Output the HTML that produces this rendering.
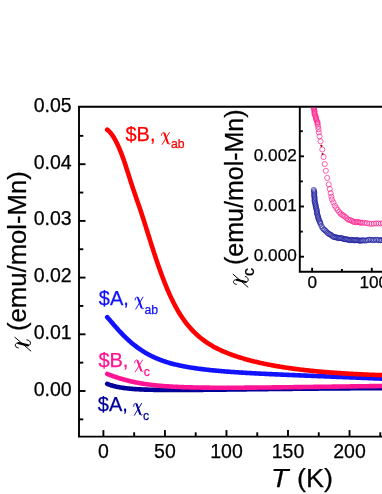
<!DOCTYPE html><html><head><meta charset="utf-8"><title>chart</title><style>
html,body{margin:0;padding:0;background:#fff;}
html{width:382px;height:494px;overflow:hidden;}
body{width:382px;height:494px;position:relative;overflow:hidden;font-family:"Liberation Sans",sans-serif;color:#000;}
#b{position:absolute;left:0;top:0;width:382px;height:494px;overflow:hidden;will-change:transform;filter:blur(0.35px);}
.t{position:absolute;white-space:nowrap;line-height:1;-webkit-text-stroke:0.25px currentColor;}
.yl{font-size:19.5px;text-align:right;width:60px;}
.xl{font-size:19.5px;text-align:center;width:60px;}
.il{font-size:17.2px;}
.lab{font-size:20px;}
.lab .chi{font-family:"Liberation Serif",serif;font-size:21px;}
.lab sub{font-size:12.5px;vertical-align:baseline;position:relative;top:4px;}
.rot{transform-origin:0 0;transform:rotate(-90deg);}
.chi-i{font-family:"Liberation Serif",serif;font-style:italic;}
</style></head><body><div id="b">
<svg width="382" height="494" viewBox="0 0 382 494" style="position:absolute;left:0;top:0"><path d="M107.20,383.80 L108.13,384.19 L109.06,384.55 L109.99,384.89 L110.92,385.20 L111.85,385.49 L112.77,385.76 L113.70,386.02 L114.63,386.26 L115.56,386.49 L116.49,386.70 L117.42,386.89 L118.35,387.08 L119.28,387.26 L120.21,387.42 L121.14,387.58 L122.07,387.72 L122.99,387.86 L123.92,387.99 L124.85,388.11 L125.78,388.23 L126.71,388.34 L127.64,388.44 L128.57,388.54 L129.50,388.63 L130.43,388.72 L131.36,388.80 L132.29,388.88 L133.21,388.95 L134.14,389.02 L135.07,389.09 L136.00,389.15 L136.93,389.21 L137.86,389.27 L138.79,389.32 L139.72,389.37 L140.65,389.41 L141.58,389.46 L142.51,389.50 L143.43,389.54 L144.36,389.58 L145.29,389.61 L146.22,389.64 L147.15,389.67 L148.08,389.70 L149.01,389.73 L149.94,389.76 L150.87,389.78 L151.80,389.80 L152.73,389.82 L153.65,389.84 L154.58,389.86 L155.51,389.88 L156.44,389.89 L157.37,389.91 L158.30,389.92 L159.23,389.93 L160.16,389.94 L161.09,389.95 L162.02,389.96 L162.95,389.97 L163.87,389.98 L164.80,389.98 L165.73,389.99 L166.66,389.99 L167.59,390.00 L168.52,390.00 L169.45,390.00 L170.38,390.01 L171.31,390.01 L172.24,390.01 L173.17,390.01 L174.09,390.01 L175.02,390.01 L175.95,390.01 L176.88,390.01 L177.81,390.01 L178.74,390.00 L179.67,390.00 L180.60,390.00 L181.53,389.99 L182.46,389.99 L183.39,389.98 L184.32,389.98 L185.24,389.98 L186.17,389.97 L187.10,389.96 L188.03,389.96 L188.96,389.95 L189.89,389.95 L190.82,389.94 L191.75,389.93 L192.68,389.92 L193.61,389.92 L194.54,389.91 L195.46,389.90 L196.39,389.89 L197.32,389.89 L198.25,389.88 L199.18,389.87 L200.11,389.86 L201.04,389.85 L201.97,389.84 L202.90,389.83 L203.83,389.82 L204.76,389.82 L205.68,389.81 L206.61,389.80 L207.54,389.79 L208.47,389.78 L209.40,389.77 L210.33,389.76 L211.26,389.75 L212.19,389.74 L213.12,389.73 L214.05,389.72 L214.98,389.71 L215.90,389.69 L216.83,389.68 L217.76,389.67 L218.69,389.66 L219.62,389.65 L220.55,389.64 L221.48,389.63 L222.41,389.62 L223.34,389.61 L224.27,389.60 L225.20,389.59 L226.12,389.58 L227.05,389.57 L227.98,389.55 L228.91,389.54 L229.84,389.53 L230.77,389.52 L231.70,389.51 L232.63,389.50 L233.56,389.49 L234.49,389.48 L235.42,389.47 L236.34,389.45 L237.27,389.44 L238.20,389.43 L239.13,389.42 L240.06,389.41 L240.99,389.40 L241.92,389.39 L242.85,389.38 L243.78,389.37 L244.71,389.35 L245.64,389.34 L246.56,389.33 L247.49,389.32 L248.42,389.31 L249.35,389.30 L250.28,389.29 L251.21,389.28 L252.14,389.27 L253.07,389.26 L254.00,389.25 L254.93,389.23 L255.86,389.22 L256.78,389.21 L257.71,389.20 L258.64,389.19 L259.57,389.18 L260.50,389.17 L261.43,389.16 L262.36,389.15 L263.29,389.14 L264.22,389.13 L265.15,389.12 L266.08,389.11 L267.00,389.10 L267.93,389.08 L268.86,389.07 L269.79,389.06 L270.72,389.05 L271.65,389.04 L272.58,389.03 L273.51,389.02 L274.44,389.01 L275.37,389.00 L276.30,388.99 L277.22,388.98 L278.15,388.97 L279.08,388.96 L280.01,388.95 L280.94,388.94 L281.87,388.93 L282.80,388.92 L283.73,388.91 L284.66,388.90 L285.59,388.89 L286.52,388.88 L287.44,388.87 L288.37,388.86 L289.30,388.86 L290.23,388.85 L291.16,388.84 L292.09,388.83 L293.02,388.82 L293.95,388.81 L294.88,388.80 L295.81,388.79 L296.74,388.78 L297.66,388.77 L298.59,388.76 L299.52,388.75 L300.45,388.74 L301.38,388.74 L302.31,388.73 L303.24,388.72 L304.17,388.71 L305.10,388.70 L306.03,388.69 L306.96,388.68 L307.88,388.67 L308.81,388.66 L309.74,388.66 L310.67,388.65 L311.60,388.64 L312.53,388.63 L313.46,388.62 L314.39,388.61 L315.32,388.61 L316.25,388.60 L317.18,388.59 L318.11,388.58 L319.03,388.57 L319.96,388.57 L320.89,388.56 L321.82,388.55 L322.75,388.54 L323.68,388.53 L324.61,388.53 L325.54,388.52 L326.47,388.51 L327.40,388.50 L328.33,388.49 L329.25,388.49 L330.18,388.48 L331.11,388.47 L332.04,388.46 L332.97,388.46 L333.90,388.45 L334.83,388.44 L335.76,388.43 L336.69,388.43 L337.62,388.42 L338.55,388.41 L339.47,388.41 L340.40,388.40 L341.33,388.39 L342.26,388.39 L343.19,388.38 L344.12,388.37 L345.05,388.36 L345.98,388.36 L346.91,388.35 L347.84,388.34 L348.77,388.34 L349.69,388.33 L350.62,388.32 L351.55,388.32 L352.48,388.31 L353.41,388.30 L354.34,388.30 L355.27,388.29 L356.20,388.29 L357.13,388.28 L358.06,388.27 L358.99,388.27 L359.91,388.26 L360.84,388.25 L361.77,388.25 L362.70,388.24 L363.63,388.24 L364.56,388.23 L365.49,388.22 L366.42,388.22 L367.35,388.21 L368.28,388.21 L369.21,388.20 L370.13,388.20 L371.06,388.19 L371.99,388.18 L372.92,388.18 L373.85,388.17 L374.78,388.17 L375.71,388.16 L376.64,388.16 L377.57,388.15 L378.50,388.15 L379.43,388.14 L380.35,388.14 L381.28,388.13 L382.21,388.13 L383.14,388.12 L384.07,388.11 L385.00,388.11" fill="none" stroke="#00009a" stroke-width="4.6" stroke-linecap="round" stroke-linejoin="round"/><path d="M107.20,373.95 L108.13,374.30 L109.06,374.65 L109.99,374.99 L110.92,375.33 L111.85,375.67 L112.77,376.00 L113.70,376.33 L114.63,376.65 L115.56,376.97 L116.49,377.28 L117.42,377.59 L118.35,377.89 L119.28,378.18 L120.21,378.47 L121.14,378.75 L122.07,379.02 L122.99,379.29 L123.92,379.55 L124.85,379.81 L125.78,380.06 L126.71,380.30 L127.64,380.54 L128.57,380.77 L129.50,381.00 L130.43,381.22 L131.36,381.43 L132.29,381.64 L133.21,381.85 L134.14,382.05 L135.07,382.24 L136.00,382.43 L136.93,382.61 L137.86,382.79 L138.79,382.96 L139.72,383.13 L140.65,383.29 L141.58,383.45 L142.51,383.61 L143.43,383.76 L144.36,383.90 L145.29,384.05 L146.22,384.18 L147.15,384.32 L148.08,384.45 L149.01,384.57 L149.94,384.69 L150.87,384.81 L151.80,384.92 L152.73,385.03 L153.65,385.14 L154.58,385.24 L155.51,385.34 L156.44,385.44 L157.37,385.53 L158.30,385.62 L159.23,385.71 L160.16,385.79 L161.09,385.87 L162.02,385.95 L162.95,386.03 L163.87,386.10 L164.80,386.17 L165.73,386.24 L166.66,386.30 L167.59,386.36 L168.52,386.42 L169.45,386.48 L170.38,386.54 L171.31,386.59 L172.24,386.65 L173.17,386.70 L174.09,386.75 L175.02,386.79 L175.95,386.84 L176.88,386.88 L177.81,386.92 L178.74,386.96 L179.67,387.00 L180.60,387.04 L181.53,387.08 L182.46,387.11 L183.39,387.14 L184.32,387.18 L185.24,387.21 L186.17,387.24 L187.10,387.26 L188.03,387.29 L188.96,387.32 L189.89,387.34 L190.82,387.37 L191.75,387.39 L192.68,387.41 L193.61,387.43 L194.54,387.45 L195.46,387.47 L196.39,387.49 L197.32,387.51 L198.25,387.52 L199.18,387.54 L200.11,387.56 L201.04,387.57 L201.97,387.58 L202.90,387.60 L203.83,387.61 L204.76,387.62 L205.68,387.63 L206.61,387.64 L207.54,387.65 L208.47,387.66 L209.40,387.67 L210.33,387.68 L211.26,387.68 L212.19,387.69 L213.12,387.70 L214.05,387.70 L214.98,387.71 L215.90,387.71 L216.83,387.72 L217.76,387.72 L218.69,387.72 L219.62,387.73 L220.55,387.73 L221.48,387.73 L222.41,387.73 L223.34,387.73 L224.27,387.73 L225.20,387.73 L226.12,387.73 L227.05,387.73 L227.98,387.73 L228.91,387.73 L229.84,387.73 L230.77,387.73 L231.70,387.73 L232.63,387.72 L233.56,387.72 L234.49,387.72 L235.42,387.72 L236.34,387.71 L237.27,387.71 L238.20,387.70 L239.13,387.70 L240.06,387.70 L240.99,387.69 L241.92,387.69 L242.85,387.68 L243.78,387.68 L244.71,387.67 L245.64,387.66 L246.56,387.66 L247.49,387.65 L248.42,387.65 L249.35,387.64 L250.28,387.63 L251.21,387.62 L252.14,387.62 L253.07,387.61 L254.00,387.60 L254.93,387.59 L255.86,387.59 L256.78,387.58 L257.71,387.57 L258.64,387.56 L259.57,387.55 L260.50,387.55 L261.43,387.54 L262.36,387.53 L263.29,387.52 L264.22,387.51 L265.15,387.50 L266.08,387.49 L267.00,387.48 L267.93,387.47 L268.86,387.46 L269.79,387.45 L270.72,387.44 L271.65,387.43 L272.58,387.42 L273.51,387.41 L274.44,387.40 L275.37,387.39 L276.30,387.38 L277.22,387.37 L278.15,387.36 L279.08,387.35 L280.01,387.34 L280.94,387.33 L281.87,387.32 L282.80,387.31 L283.73,387.30 L284.66,387.28 L285.59,387.27 L286.52,387.26 L287.44,387.25 L288.37,387.24 L289.30,387.23 L290.23,387.22 L291.16,387.21 L292.09,387.19 L293.02,387.18 L293.95,387.17 L294.88,387.16 L295.81,387.15 L296.74,387.14 L297.66,387.12 L298.59,387.11 L299.52,387.10 L300.45,387.09 L301.38,387.08 L302.31,387.06 L303.24,387.05 L304.17,387.04 L305.10,387.03 L306.03,387.02 L306.96,387.00 L307.88,386.99 L308.81,386.98 L309.74,386.97 L310.67,386.95 L311.60,386.94 L312.53,386.93 L313.46,386.92 L314.39,386.91 L315.32,386.89 L316.25,386.88 L317.18,386.87 L318.11,386.86 L319.03,386.84 L319.96,386.83 L320.89,386.82 L321.82,386.81 L322.75,386.79 L323.68,386.78 L324.61,386.77 L325.54,386.76 L326.47,386.74 L327.40,386.73 L328.33,386.72 L329.25,386.71 L330.18,386.69 L331.11,386.68 L332.04,386.67 L332.97,386.66 L333.90,386.64 L334.83,386.63 L335.76,386.62 L336.69,386.61 L337.62,386.59 L338.55,386.58 L339.47,386.57 L340.40,386.56 L341.33,386.54 L342.26,386.53 L343.19,386.52 L344.12,386.51 L345.05,386.49 L345.98,386.48 L346.91,386.47 L347.84,386.46 L348.77,386.44 L349.69,386.43 L350.62,386.42 L351.55,386.41 L352.48,386.40 L353.41,386.38 L354.34,386.37 L355.27,386.36 L356.20,386.35 L357.13,386.33 L358.06,386.32 L358.99,386.31 L359.91,386.30 L360.84,386.28 L361.77,386.27 L362.70,386.26 L363.63,386.25 L364.56,386.24 L365.49,386.22 L366.42,386.21 L367.35,386.20 L368.28,386.19 L369.21,386.17 L370.13,386.16 L371.06,386.15 L371.99,386.14 L372.92,386.13 L373.85,386.11 L374.78,386.10 L375.71,386.09 L376.64,386.08 L377.57,386.07 L378.50,386.05 L379.43,386.04 L380.35,386.03 L381.28,386.02 L382.21,386.01 L383.14,385.99 L384.07,385.98 L385.00,385.97" fill="none" stroke="#ff1493" stroke-width="4.6" stroke-linecap="round" stroke-linejoin="round"/><path d="M107.20,317.10 L108.13,318.15 L109.06,319.22 L109.99,320.30 L110.92,321.39 L111.85,322.48 L112.77,323.57 L113.70,324.65 L114.63,325.72 L115.56,326.79 L116.49,327.85 L117.42,328.89 L118.35,329.92 L119.28,330.94 L120.21,331.94 L121.14,332.93 L122.07,333.90 L122.99,334.85 L123.92,335.79 L124.85,336.71 L125.78,337.61 L126.71,338.49 L127.64,339.36 L128.57,340.21 L129.50,341.04 L130.43,341.86 L131.36,342.66 L132.29,343.44 L133.21,344.20 L134.14,344.95 L135.07,345.68 L136.00,346.39 L136.93,347.09 L137.86,347.77 L138.79,348.43 L139.72,349.08 L140.65,349.72 L141.58,350.34 L142.51,350.94 L143.43,351.53 L144.36,352.10 L145.29,352.66 L146.22,353.21 L147.15,353.74 L148.08,354.26 L149.01,354.76 L149.94,355.25 L150.87,355.73 L151.80,356.20 L152.73,356.65 L153.65,357.09 L154.58,357.52 L155.51,357.94 L156.44,358.34 L157.37,358.73 L158.30,359.11 L159.23,359.49 L160.16,359.85 L161.09,360.19 L162.02,360.53 L162.95,360.86 L163.87,361.18 L164.80,361.49 L165.73,361.80 L166.66,362.09 L167.59,362.38 L168.52,362.65 L169.45,362.92 L170.38,363.19 L171.31,363.44 L172.24,363.69 L173.17,363.94 L174.09,364.17 L175.02,364.40 L175.95,364.63 L176.88,364.85 L177.81,365.06 L178.74,365.27 L179.67,365.47 L180.60,365.67 L181.53,365.86 L182.46,366.05 L183.39,366.23 L184.32,366.41 L185.24,366.59 L186.17,366.76 L187.10,366.93 L188.03,367.09 L188.96,367.25 L189.89,367.40 L190.82,367.56 L191.75,367.70 L192.68,367.85 L193.61,367.99 L194.54,368.13 L195.46,368.27 L196.39,368.40 L197.32,368.53 L198.25,368.66 L199.18,368.78 L200.11,368.90 L201.04,369.02 L201.97,369.14 L202.90,369.26 L203.83,369.37 L204.76,369.48 L205.68,369.59 L206.61,369.69 L207.54,369.80 L208.47,369.90 L209.40,370.00 L210.33,370.10 L211.26,370.19 L212.19,370.29 L213.12,370.38 L214.05,370.47 L214.98,370.56 L215.90,370.65 L216.83,370.73 L217.76,370.82 L218.69,370.90 L219.62,370.98 L220.55,371.06 L221.48,371.14 L222.41,371.22 L223.34,371.30 L224.27,371.37 L225.20,371.45 L226.12,371.52 L227.05,371.59 L227.98,371.66 L228.91,371.73 L229.84,371.80 L230.77,371.87 L231.70,371.94 L232.63,372.00 L233.56,372.07 L234.49,372.13 L235.42,372.19 L236.34,372.26 L237.27,372.32 L238.20,372.38 L239.13,372.44 L240.06,372.50 L240.99,372.55 L241.92,372.61 L242.85,372.67 L243.78,372.72 L244.71,372.78 L245.64,372.84 L246.56,372.89 L247.49,372.94 L248.42,373.00 L249.35,373.05 L250.28,373.10 L251.21,373.15 L252.14,373.20 L253.07,373.25 L254.00,373.30 L254.93,373.35 L255.86,373.40 L256.78,373.45 L257.71,373.50 L258.64,373.54 L259.57,373.59 L260.50,373.64 L261.43,373.68 L262.36,373.73 L263.29,373.78 L264.22,373.82 L265.15,373.87 L266.08,373.91 L267.00,373.95 L267.93,374.00 L268.86,374.04 L269.79,374.08 L270.72,374.13 L271.65,374.17 L272.58,374.21 L273.51,374.25 L274.44,374.30 L275.37,374.34 L276.30,374.38 L277.22,374.42 L278.15,374.46 L279.08,374.50 L280.01,374.54 L280.94,374.58 L281.87,374.62 L282.80,374.66 L283.73,374.70 L284.66,374.74 L285.59,374.78 L286.52,374.82 L287.44,374.86 L288.37,374.90 L289.30,374.94 L290.23,374.98 L291.16,375.02 L292.09,375.05 L293.02,375.09 L293.95,375.13 L294.88,375.17 L295.81,375.21 L296.74,375.24 L297.66,375.28 L298.59,375.32 L299.52,375.36 L300.45,375.40 L301.38,375.43 L302.31,375.47 L303.24,375.51 L304.17,375.54 L305.10,375.58 L306.03,375.62 L306.96,375.66 L307.88,375.69 L308.81,375.73 L309.74,375.77 L310.67,375.80 L311.60,375.84 L312.53,375.88 L313.46,375.91 L314.39,375.95 L315.32,375.99 L316.25,376.02 L317.18,376.06 L318.11,376.10 L319.03,376.13 L319.96,376.17 L320.89,376.21 L321.82,376.24 L322.75,376.28 L323.68,376.32 L324.61,376.35 L325.54,376.39 L326.47,376.43 L327.40,376.46 L328.33,376.50 L329.25,376.54 L330.18,376.57 L331.11,376.61 L332.04,376.65 L332.97,376.68 L333.90,376.72 L334.83,376.76 L335.76,376.79 L336.69,376.83 L337.62,376.87 L338.55,376.90 L339.47,376.94 L340.40,376.98 L341.33,377.01 L342.26,377.05 L343.19,377.09 L344.12,377.12 L345.05,377.16 L345.98,377.20 L346.91,377.24 L347.84,377.27 L348.77,377.31 L349.69,377.35 L350.62,377.39 L351.55,377.42 L352.48,377.46 L353.41,377.50 L354.34,377.53 L355.27,377.57 L356.20,377.61 L357.13,377.65 L358.06,377.69 L358.99,377.72 L359.91,377.76 L360.84,377.80 L361.77,377.84 L362.70,377.87 L363.63,377.91 L364.56,377.95 L365.49,377.99 L366.42,378.03 L367.35,378.07 L368.28,378.10 L369.21,378.14 L370.13,378.18 L371.06,378.22 L371.99,378.26 L372.92,378.30 L373.85,378.34 L374.78,378.37 L375.71,378.41 L376.64,378.45 L377.57,378.49 L378.50,378.53 L379.43,378.57 L380.35,378.61 L381.28,378.65 L382.21,378.69 L383.14,378.73 L384.07,378.77 L385.00,378.81" fill="none" stroke="#1212ff" stroke-width="4.6" stroke-linecap="round" stroke-linejoin="round"/><path d="M107.20,129.63 L108.13,130.39 L109.06,131.25 L109.99,132.23 L110.92,133.32 L111.85,134.53 L112.77,135.85 L113.70,137.30 L114.63,138.86 L115.56,140.53 L116.49,142.33 L117.42,144.23 L118.35,146.25 L119.28,148.37 L120.21,150.60 L121.14,152.94 L122.07,155.38 L122.99,157.91 L123.92,160.54 L124.85,163.27 L125.78,166.07 L126.71,168.93 L127.64,171.83 L128.57,174.75 L129.50,177.67 L130.43,180.58 L131.36,183.46 L132.29,186.31 L133.21,189.10 L134.14,191.85 L135.07,194.56 L136.00,197.26 L136.93,199.94 L137.86,202.63 L138.79,205.33 L139.72,208.05 L140.65,210.81 L141.58,213.60 L142.51,216.44 L143.43,219.32 L144.36,222.23 L145.29,225.16 L146.22,228.11 L147.15,231.06 L148.08,234.02 L149.01,236.97 L149.94,239.92 L150.87,242.85 L151.80,245.77 L152.73,248.66 L153.65,251.53 L154.58,254.37 L155.51,257.18 L156.44,259.95 L157.37,262.68 L158.30,265.38 L159.23,268.03 L160.16,270.64 L161.09,273.21 L162.02,275.73 L162.95,278.20 L163.87,280.62 L164.80,282.99 L165.73,285.31 L166.66,287.58 L167.59,289.80 L168.52,291.96 L169.45,294.07 L170.38,296.13 L171.31,298.13 L172.24,300.07 L173.17,301.97 L174.09,303.80 L175.02,305.59 L175.95,307.31 L176.88,308.98 L177.81,310.60 L178.74,312.17 L179.67,313.68 L180.60,315.15 L181.53,316.58 L182.46,317.96 L183.39,319.29 L184.32,320.59 L185.24,321.84 L186.17,323.06 L187.10,324.24 L188.03,325.38 L188.96,326.49 L189.89,327.57 L190.82,328.61 L191.75,329.62 L192.68,330.60 L193.61,331.56 L194.54,332.48 L195.46,333.38 L196.39,334.25 L197.32,335.10 L198.25,335.92 L199.18,336.72 L200.11,337.50 L201.04,338.26 L201.97,338.99 L202.90,339.70 L203.83,340.40 L204.76,341.07 L205.68,341.73 L206.61,342.37 L207.54,342.99 L208.47,343.59 L209.40,344.18 L210.33,344.76 L211.26,345.32 L212.19,345.86 L213.12,346.39 L214.05,346.91 L214.98,347.41 L215.90,347.90 L216.83,348.38 L217.76,348.85 L218.69,349.31 L219.62,349.76 L220.55,350.19 L221.48,350.62 L222.41,351.04 L223.34,351.44 L224.27,351.84 L225.20,352.23 L226.12,352.61 L227.05,352.99 L227.98,353.35 L228.91,353.71 L229.84,354.06 L230.77,354.41 L231.70,354.75 L232.63,355.08 L233.56,355.40 L234.49,355.72 L235.42,356.04 L236.34,356.35 L237.27,356.65 L238.20,356.95 L239.13,357.25 L240.06,357.54 L240.99,357.82 L241.92,358.10 L242.85,358.38 L243.78,358.65 L244.71,358.92 L245.64,359.18 L246.56,359.45 L247.49,359.70 L248.42,359.96 L249.35,360.20 L250.28,360.45 L251.21,360.69 L252.14,360.93 L253.07,361.16 L254.00,361.40 L254.93,361.62 L255.86,361.85 L256.78,362.07 L257.71,362.29 L258.64,362.50 L259.57,362.71 L260.50,362.92 L261.43,363.13 L262.36,363.33 L263.29,363.53 L264.22,363.73 L265.15,363.92 L266.08,364.11 L267.00,364.30 L267.93,364.49 L268.86,364.67 L269.79,364.85 L270.72,365.03 L271.65,365.20 L272.58,365.38 L273.51,365.55 L274.44,365.72 L275.37,365.88 L276.30,366.04 L277.22,366.20 L278.15,366.36 L279.08,366.52 L280.01,366.67 L280.94,366.83 L281.87,366.98 L282.80,367.12 L283.73,367.27 L284.66,367.41 L285.59,367.55 L286.52,367.69 L287.44,367.83 L288.37,367.97 L289.30,368.10 L290.23,368.23 L291.16,368.36 L292.09,368.49 L293.02,368.62 L293.95,368.74 L294.88,368.86 L295.81,368.99 L296.74,369.11 L297.66,369.22 L298.59,369.34 L299.52,369.45 L300.45,369.57 L301.38,369.68 L302.31,369.79 L303.24,369.90 L304.17,370.00 L305.10,370.11 L306.03,370.21 L306.96,370.31 L307.88,370.41 L308.81,370.51 L309.74,370.61 L310.67,370.71 L311.60,370.80 L312.53,370.90 L313.46,370.99 L314.39,371.08 L315.32,371.17 L316.25,371.26 L317.18,371.35 L318.11,371.43 L319.03,371.52 L319.96,371.60 L320.89,371.69 L321.82,371.77 L322.75,371.85 L323.68,371.93 L324.61,372.01 L325.54,372.08 L326.47,372.16 L327.40,372.23 L328.33,372.31 L329.25,372.38 L330.18,372.45 L331.11,372.52 L332.04,372.59 L332.97,372.66 L333.90,372.73 L334.83,372.79 L335.76,372.86 L336.69,372.92 L337.62,372.99 L338.55,373.05 L339.47,373.11 L340.40,373.17 L341.33,373.23 L342.26,373.29 L343.19,373.35 L344.12,373.41 L345.05,373.47 L345.98,373.52 L346.91,373.58 L347.84,373.63 L348.77,373.69 L349.69,373.74 L350.62,373.79 L351.55,373.84 L352.48,373.89 L353.41,373.94 L354.34,373.99 L355.27,374.04 L356.20,374.09 L357.13,374.13 L358.06,374.18 L358.99,374.22 L359.91,374.27 L360.84,374.31 L361.77,374.36 L362.70,374.40 L363.63,374.44 L364.56,374.48 L365.49,374.52 L366.42,374.56 L367.35,374.60 L368.28,374.64 L369.21,374.68 L370.13,374.72 L371.06,374.75 L371.99,374.79 L372.92,374.83 L373.85,374.86 L374.78,374.90 L375.71,374.93 L376.64,374.96 L377.57,375.00 L378.50,375.03 L379.43,375.06 L380.35,375.09 L381.28,375.12 L382.21,375.15 L383.14,375.18 L384.07,375.21 L385.00,375.24" fill="none" stroke="#ff0000" stroke-width="4.6" stroke-linecap="round" stroke-linejoin="round"/><rect x="218" y="106.7" width="170" height="189.10000000000002" fill="#fff"/><g stroke="#000" stroke-width="1.9" fill="none" stroke-linecap="butt"><path d="M79.0,105.7 V436.6 M78.0,106.7 H382 M78.0,436.6 H382"/><path d="M79.0,391.00 h6.5"/><path d="M79.0,334.30 h6.5"/><path d="M79.0,277.60 h6.5"/><path d="M79.0,220.90 h6.5"/><path d="M79.0,164.20 h6.5"/><path d="M79.0,419.35 h4.3"/><path d="M79.0,362.65 h4.3"/><path d="M79.0,305.95 h4.3"/><path d="M79.0,249.25 h4.3"/><path d="M79.0,192.55 h4.3"/><path d="M79.0,135.85 h4.3"/><path d="M103.40,436.6 v-6.5"/><path d="M164.94,436.6 v-6.5"/><path d="M226.47,436.6 v-6.5"/><path d="M288.00,436.6 v-6.5"/><path d="M349.54,436.6 v-6.5"/><path d="M411.07,436.6 v-6.5"/><path d="M134.17,436.6 v-4.3"/><path d="M195.70,436.6 v-4.3"/><path d="M257.24,436.6 v-4.3"/><path d="M318.77,436.6 v-4.3"/><path d="M380.31,436.6 v-4.3"/><path d="M299.8,106.7 V272.8 M298.8,271.8 H382"/><path d="M299.8,256.70 h4.2"/><path d="M299.8,206.50 h4.2"/><path d="M299.8,156.30 h4.2"/><path d="M299.8,231.60 h3.0"/><path d="M299.8,181.40 h3.0"/><path d="M299.8,131.20 h3.0"/><path d="M312.10,271.8 v-4.0"/><path d="M371.80,271.8 v-4.0"/><path d="M341.95,271.8 v-2.9"/></g></svg>
<div class="t yl" style="left:11.700000000000003px;top:379.5px">0.00</div>
<div class="t yl" style="left:11.700000000000003px;top:322.8px">0.01</div>
<div class="t yl" style="left:11.700000000000003px;top:266.1px">0.02</div>
<div class="t yl" style="left:11.700000000000003px;top:209.4px">0.03</div>
<div class="t yl" style="left:11.700000000000003px;top:152.7px">0.04</div>
<div class="t yl" style="left:11.700000000000003px;top:96.0px">0.05</div>
<div class="t xl" style="left:73.4px;top:441.8px">0</div>
<div class="t xl" style="left:134.9px;top:441.8px">50</div>
<div class="t xl" style="left:196.5px;top:441.8px">100</div>
<div class="t xl" style="left:258.0px;top:441.8px">150</div>
<div class="t xl" style="left:319.5px;top:441.8px">200</div>
<div class="t il" style="left:236.8px;width:60px;text-align:right;top:247.0px">0.000</div>
<div class="t il" style="left:236.8px;width:60px;text-align:right;top:197.2px">0.001</div>
<div class="t il" style="left:236.8px;width:60px;text-align:right;top:147.4px">0.002</div>
<div class="t il" style="left:282.3px;width:60px;text-align:center;top:274.0px">0</div>
<div class="t il" style="left:343.8px;width:60px;text-align:center;top:274.0px">100</div>
<div class="t" style="left:270.6px;top:465.6px;font-size:25.3px;transform-origin:0 0;transform:scaleX(1.13)"><i>T</i></div>
<div class="t" style="left:297.3px;top:465.6px;font-size:25.3px;transform-origin:0 0;transform:scaleX(1.07)">(K)</div>
<div class="t rot" style="left:5.0px;top:331.4px;font-size:25.7px">(emu/mol-Mn)</div>
<div class="t rot" style="left:222.4px;top:264.7px;font-size:25px">(emu/mol-Mn)</div>
<div class="t rot" style="left:240.9px;top:275.6px;font-size:16px">c</div>
<div class="t" style="left:125.5px;top:124.1px;font-size:20px;color:#ff0000">$B,</div>
<div class="t" style="left:171.1px;top:138.1px;font-size:12.2px;color:#ff0000">ab</div>
<div class="t" style="left:98.8px;top:287.7px;font-size:20px;color:#1212ff">$A,</div>
<div class="t" style="left:144.4px;top:303.8px;font-size:12.2px;color:#1212ff">ab</div>
<div class="t" style="left:98.4px;top:350.3px;font-size:20px;color:#ff1493">$B,</div>
<div class="t" style="left:143.8px;top:366.3px;font-size:12.2px;color:#ff1493">c</div>
<div class="t" style="left:97.8px;top:394.1px;font-size:20px;color:#00009a">$A,</div>
<div class="t" style="left:142.9px;top:410.1px;font-size:12.2px;color:#00009a">c</div>
<svg width="382" height="494" viewBox="0 0 382 494" style="position:absolute;left:0;top:0"><g fill="none" stroke="#000" stroke-linecap="round" stroke-linejoin="round"><path d="M14.9,337.3 L30.8,351.0" stroke-width="1.0"/><path d="M18.3,347.9 C16.4,347.6 14.9,346.4 15.3,344.8 C15.7,343.2 17.3,342.7 19.3,343.2 L27.2,345.2 C29.2,345.7 30.5,344.8 30.5,343.2 C30.5,341.5 29.0,340.1 26.9,339.8" stroke-width="1.0"/><path d="M18.6,343.1 L28.0,345.3" stroke-width="2.3"/></g><g fill="none" stroke="#000" stroke-linecap="round" stroke-linejoin="round"><path d="M233.1,274.3 L247.9,287.1" stroke-width="1.0"/><path d="M236.3,284.4 C234.5,284.1 233.1,283.0 233.5,281.5 C233.9,280.0 235.4,279.5 237.2,280.0 L244.8,281.9 C246.8,282.4 248.2,281.4 248.2,279.8 C248.2,278.2 247.0,276.8 245.3,276.5" stroke-width="1.0"/><path d="M236.8,279.8 L245.6,282.0" stroke-width="2.2"/></g><g transform="translate(161.0,132.0)" fill="none" stroke="#ff0000" stroke-linecap="round" stroke-linejoin="round"><path d="M8.4,0.5 L1.2,12.4" stroke-width="0.95"/><path d="M0.5,3.4 C0.6,1.6 1.3,0.5 2.3,0.5 C3.2,0.5 3.7,1.4 4.1,2.6 L6.5,9.9 C6.9,11.2 7.4,12.2 8.2,12.2 C8.6,12.2 8.9,12.0 9.0,11.6" stroke-width="0.95"/><path d="M3.4,1.4 L6.9,11.0" stroke-width="1.9"/></g><g transform="translate(134.6,296.6)" fill="none" stroke="#1212ff" stroke-linecap="round" stroke-linejoin="round"><path d="M8.4,0.5 L1.2,12.4" stroke-width="0.95"/><path d="M0.5,3.4 C0.6,1.6 1.3,0.5 2.3,0.5 C3.2,0.5 3.7,1.4 4.1,2.6 L6.5,9.9 C6.9,11.2 7.4,12.2 8.2,12.2 C8.6,12.2 8.9,12.0 9.0,11.6" stroke-width="0.95"/><path d="M3.4,1.4 L6.9,11.0" stroke-width="1.9"/></g><g transform="translate(134.2,359.4)" fill="none" stroke="#ff1493" stroke-linecap="round" stroke-linejoin="round"><path d="M8.4,0.5 L1.2,12.4" stroke-width="0.95"/><path d="M0.5,3.4 C0.6,1.6 1.3,0.5 2.3,0.5 C3.2,0.5 3.7,1.4 4.1,2.6 L6.5,9.9 C6.9,11.2 7.4,12.2 8.2,12.2 C8.6,12.2 8.9,12.0 9.0,11.6" stroke-width="0.95"/><path d="M3.4,1.4 L6.9,11.0" stroke-width="1.9"/></g><g transform="translate(133.2,402.9)" fill="none" stroke="#00009a" stroke-linecap="round" stroke-linejoin="round"><path d="M8.4,0.5 L1.2,12.4" stroke-width="0.95"/><path d="M0.5,3.4 C0.6,1.6 1.3,0.5 2.3,0.5 C3.2,0.5 3.7,1.4 4.1,2.6 L6.5,9.9 C6.9,11.2 7.4,12.2 8.2,12.2 C8.6,12.2 8.9,12.0 9.0,11.6" stroke-width="0.95"/><path d="M3.4,1.4 L6.9,11.0" stroke-width="1.9"/></g></svg>
</div>
<svg width="382" height="494" viewBox="0 0 382 494" style="position:absolute;left:0;top:0;filter:blur(0.15px)"><clipPath id="ic"><rect x="300.8" y="107.7" width="100" height="163.10000000000002"/></clipPath><g clip-path="url(#ic)"><g fill="none" stroke="#ff1f8c" stroke-width="0.7"><circle cx="313.05" cy="103.00" r="2.55"/><circle cx="313.63" cy="104.25" r="2.55"/><circle cx="313.97" cy="105.50" r="2.55"/><circle cx="313.89" cy="106.75" r="2.55"/><circle cx="313.80" cy="108.00" r="2.55"/><circle cx="314.06" cy="109.25" r="2.55"/><circle cx="314.43" cy="110.50" r="2.55"/><circle cx="314.51" cy="111.75" r="2.55"/><circle cx="314.43" cy="113.00" r="2.55"/><circle cx="314.63" cy="114.25" r="2.55"/><circle cx="315.23" cy="115.50" r="2.55"/><circle cx="315.78" cy="116.75" r="2.55"/><circle cx="315.98" cy="118.00" r="2.55"/><circle cx="316.13" cy="119.25" r="2.55"/><circle cx="316.61" cy="120.50" r="2.55"/><circle cx="317.26" cy="121.75" r="2.55"/><circle cx="317.60" cy="123.00" r="2.55"/><circle cx="317.59" cy="124.25" r="2.55"/><circle cx="318.18" cy="126.70" r="2.55"/><circle cx="318.46" cy="129.30" r="2.55"/><circle cx="318.79" cy="132.30" r="2.55"/><circle cx="319.52" cy="136.40" r="2.55"/><circle cx="320.60" cy="141.40" r="2.55"/><circle cx="322.26" cy="149.50" r="2.55"/><circle cx="323.58" cy="157.00" r="2.55"/><circle cx="324.72" cy="164.10" r="2.55"/><circle cx="325.81" cy="170.80" r="2.55"/><circle cx="327.22" cy="177.90" r="2.55"/><circle cx="328.70" cy="184.40" r="2.55"/><circle cx="329.80" cy="189.00" r="2.55"/><circle cx="330.68" cy="193.10" r="2.55"/><circle cx="331.40" cy="196.70" r="2.55"/><circle cx="331.93" cy="199.50" r="2.55"/><circle cx="333.38" cy="202.52" r="2.55"/><circle cx="334.83" cy="205.64" r="2.55"/><circle cx="336.28" cy="208.01" r="2.55"/><circle cx="337.73" cy="210.02" r="2.55"/><circle cx="339.18" cy="211.99" r="2.55"/><circle cx="340.63" cy="213.74" r="2.55"/><circle cx="342.08" cy="214.87" r="2.55"/><circle cx="343.53" cy="215.59" r="2.55"/><circle cx="344.98" cy="216.60" r="2.55"/><circle cx="346.43" cy="218.06" r="2.55"/><circle cx="347.88" cy="219.32" r="2.55"/><circle cx="349.33" cy="219.97" r="2.55"/><circle cx="350.78" cy="220.37" r="2.55"/><circle cx="352.23" cy="221.07" r="2.55"/><circle cx="353.68" cy="221.88" r="2.55"/><circle cx="355.13" cy="222.18" r="2.55"/><circle cx="356.58" cy="222.00" r="2.55"/><circle cx="358.03" cy="221.95" r="2.55"/><circle cx="359.48" cy="222.36" r="2.55"/><circle cx="360.93" cy="222.79" r="2.55"/><circle cx="362.38" cy="222.81" r="2.55"/><circle cx="364.68" cy="222.80" r="2.55"/><circle cx="366.98" cy="223.15" r="2.55"/><circle cx="369.28" cy="223.70" r="2.55"/><circle cx="371.58" cy="223.91" r="2.55"/><circle cx="373.88" cy="223.61" r="2.55"/><circle cx="376.18" cy="223.34" r="2.55"/><circle cx="378.48" cy="223.47" r="2.55"/><circle cx="380.78" cy="223.59" r="2.55"/><circle cx="383.08" cy="223.22" r="2.55"/><circle cx="385.38" cy="222.61" r="2.55"/><circle cx="387.68" cy="222.40" r="2.55"/></g><g fill="none" stroke="#1c1c9e" stroke-width="0.7"><circle cx="313.76" cy="190.00" r="2.55"/><circle cx="314.08" cy="191.30" r="2.55"/><circle cx="314.28" cy="192.60" r="2.55"/><circle cx="314.23" cy="193.90" r="2.55"/><circle cx="314.17" cy="195.20" r="2.55"/><circle cx="314.33" cy="196.50" r="2.55"/><circle cx="314.57" cy="197.80" r="2.55"/><circle cx="314.62" cy="199.10" r="2.55"/><circle cx="314.56" cy="200.40" r="2.55"/><circle cx="314.69" cy="201.70" r="2.55"/><circle cx="315.09" cy="203.00" r="2.55"/><circle cx="315.47" cy="204.30" r="2.55"/><circle cx="315.64" cy="205.60" r="2.55"/><circle cx="315.78" cy="206.90" r="2.55"/><circle cx="316.13" cy="208.20" r="2.55"/><circle cx="316.58" cy="209.50" r="2.55"/><circle cx="316.81" cy="210.80" r="2.55"/><circle cx="316.84" cy="212.10" r="2.55"/><circle cx="316.99" cy="213.40" r="2.55"/><circle cx="317.40" cy="214.70" r="2.55"/><circle cx="317.86" cy="216.00" r="2.55"/><circle cx="318.14" cy="217.30" r="2.55"/><circle cx="318.40" cy="218.60" r="2.55"/><circle cx="318.92" cy="219.90" r="2.55"/><circle cx="319.61" cy="221.20" r="2.55"/><circle cx="320.16" cy="222.50" r="2.55"/><circle cx="320.46" cy="223.80" r="2.55"/><circle cx="321.61" cy="226.22" r="2.55"/><circle cx="322.76" cy="228.23" r="2.55"/><circle cx="323.91" cy="229.47" r="2.55"/><circle cx="325.06" cy="230.33" r="2.55"/><circle cx="326.21" cy="231.42" r="2.55"/><circle cx="327.36" cy="232.70" r="2.55"/><circle cx="328.51" cy="233.69" r="2.55"/><circle cx="329.66" cy="234.23" r="2.55"/><circle cx="330.81" cy="234.81" r="2.55"/><circle cx="331.96" cy="235.75" r="2.55"/><circle cx="333.11" cy="236.67" r="2.55"/><circle cx="334.26" cy="237.10" r="2.55"/><circle cx="335.41" cy="237.19" r="2.55"/><circle cx="336.56" cy="237.44" r="2.55"/><circle cx="337.71" cy="237.93" r="2.55"/><circle cx="338.86" cy="238.20" r="2.55"/><circle cx="340.01" cy="238.08" r="2.55"/><circle cx="341.16" cy="238.00" r="2.55"/><circle cx="342.31" cy="238.37" r="2.55"/><circle cx="343.46" cy="238.93" r="2.55"/><circle cx="344.61" cy="239.18" r="2.55"/><circle cx="345.76" cy="239.15" r="2.55"/><circle cx="346.91" cy="239.31" r="2.55"/><circle cx="348.06" cy="239.79" r="2.55"/><circle cx="349.21" cy="240.14" r="2.55"/><circle cx="350.36" cy="240.05" r="2.55"/><circle cx="351.51" cy="239.84" r="2.55"/><circle cx="352.66" cy="239.97" r="2.55"/><circle cx="353.81" cy="240.31" r="2.55"/><circle cx="354.96" cy="240.36" r="2.55"/><circle cx="356.11" cy="240.09" r="2.55"/><circle cx="357.26" cy="240.03" r="2.55"/><circle cx="358.41" cy="240.39" r="2.55"/><circle cx="359.56" cy="240.75" r="2.55"/><circle cx="360.71" cy="240.67" r="2.55"/><circle cx="361.86" cy="240.37" r="2.55"/><circle cx="363.01" cy="240.34" r="2.55"/><circle cx="364.61" cy="240.52" r="2.55"/><circle cx="366.21" cy="240.45" r="2.55"/><circle cx="367.81" cy="240.02" r="2.55"/><circle cx="369.41" cy="239.69" r="2.55"/><circle cx="371.01" cy="239.83" r="2.55"/><circle cx="372.61" cy="240.11" r="2.55"/><circle cx="374.21" cy="240.07" r="2.55"/><circle cx="375.81" cy="239.83" r="2.55"/><circle cx="377.41" cy="239.85" r="2.55"/><circle cx="379.01" cy="240.18" r="2.55"/><circle cx="380.61" cy="240.29" r="2.55"/><circle cx="382.21" cy="239.93" r="2.55"/><circle cx="383.81" cy="239.51" r="2.55"/><circle cx="385.41" cy="239.45" r="2.55"/><circle cx="387.01" cy="239.56" r="2.55"/></g><circle cx="321.4" cy="145.8" r="1.1" fill="#8b0000"/><circle cx="322.6" cy="154.0" r="1.0" fill="#8b0000"/></g></svg>
</body></html>
